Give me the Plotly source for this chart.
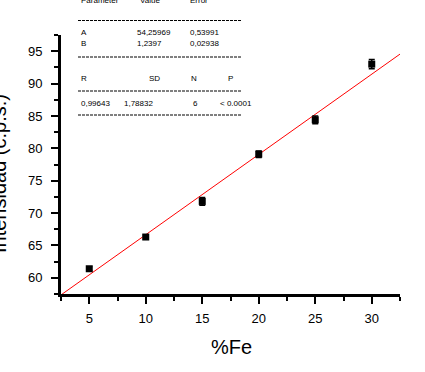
import plotly.graph_objects as go

# ---- data ----
fe_pct = [5, 10, 15, 20, 25, 30]
intensity = [61.4, 66.3, 71.8, 79.1, 84.4, 93.0]
intensity_err = [0.3, 0.3, 0.6, 0.5, 0.6, 0.7]

fit_x = [2.5, 32.5]
fit_y = [57.36, 94.55]

x_ticks = [5, 10, 15, 20, 25, 30]
y_ticks = [60, 65, 70, 75, 80, 85, 90, 95]

table_header = ["Parameter", "Value", "Error"]
table_rowA = ["A", "54,25969", "0,53991"]
table_rowB = ["B", "1,2397", "0,02938"]
stats_header = ["R", "SD", "N", "P"]
stats_values = ["0,99643", "1,78832", "6", "< 0.0001"]

# ---- layout geometry (pixels) ----
W, H = 425, 372
L, R, T, B = 61, 25, 35, 78
PW, PH = W - L - R, H - T - B


def px(x):
    return (x - L) / PW


def py(y):
    return (H - B - y) / PH


FONT = "Liberation Sans, Arial, sans-serif"

fig = go.Figure()

fig.add_trace(go.Scatter(
    x=fit_x, y=fit_y, mode="lines",
    line=dict(color="#ff0000", width=1), showlegend=False, hoverinfo="skip"))

fig.add_trace(go.Scatter(
    x=fe_pct, y=intensity, mode="markers",
    marker=dict(symbol="square", size=7, color="black"),
    error_y=dict(type="data", array=intensity_err, color="black",
                 thickness=1.5, width=3),
    showlegend=False))

annotations = []


def txt(s, x, y, size=8):
    annotations.append(dict(
        text=s, x=px(x), y=py(y), xref="paper", yref="paper",
        xanchor="left", yanchor="middle", showarrow=False,
        font=dict(family=FONT, size=size, color="black")))


for s, x in zip(table_header, [79, 138, 188]):
    txt(s, x, 0.5)
for s, x in zip(table_rowA, [79, 135, 188]):
    txt(s, x, 32.5)
for s, x in zip(table_rowB, [79, 135, 188]):
    txt(s, x, 43.5)
for s, x in zip(stats_header, [79, 147, 189, 226]):
    txt(s, x, 78)
for s, x in zip(stats_values, [79, 122, 191, 218]):
    txt(s, x, 103)

# axis titles
annotations.append(dict(
    text="%Fe", x=px(231), y=py(347), xref="paper", yref="paper",
    xanchor="center", yanchor="middle", showarrow=False,
    font=dict(family=FONT, size=20, color="black")))
annotations.append(dict(
    text="Intensidad (c.p.s.)", x=px(0), y=py(174), xref="paper", yref="paper",
    xanchor="left", yanchor="middle", xshift=-14, showarrow=False, textangle=-90,
    font=dict(family=FONT, size=20, color="black")))

shapes = []
for yy in [20.5, 57, 91, 115]:
    shapes.append(dict(
        type="line", xref="paper", yref="paper",
        x0=px(78), x1=px(242), y0=py(yy), y1=py(yy),
        line=dict(color="black", width=1, dash="3px,1px")))

axis_common = dict(
    showgrid=False, zeroline=False, showline=True, linecolor="black",
    linewidth=3, ticks="outside", ticklen=7, tickwidth=2, tickcolor="black",
    tickfont=dict(family=FONT, size=13, color="black"),
)

fig.update_layout(
    width=W, height=H,
    margin=dict(l=L, r=R, t=T, b=B, pad=0),
    paper_bgcolor="white", plot_bgcolor="white",
    xaxis=dict(range=[2.5, 32.5], tickvals=x_ticks, ticklabelstandoff=3,
               minor=dict(dtick=2.5, tick0=2.5, ticks="outside", ticklen=4,
                          tickwidth=2, tickcolor="black"),
               **axis_common),
    yaxis=dict(range=[57.5, 97.5], tickvals=y_ticks, ticklabelstandoff=6,
               minor=dict(dtick=2.5, tick0=57.5, ticks="outside", ticklen=4,
                          tickwidth=2, tickcolor="black"),
               **axis_common),
    annotations=annotations,
    shapes=shapes,
    showlegend=False,
)

fig.write_html(
    "out.html",
    config={"displayModeBar": False},
    post_script="document.body.style.margin='0';document.body.style.overflow='hidden';",
)
